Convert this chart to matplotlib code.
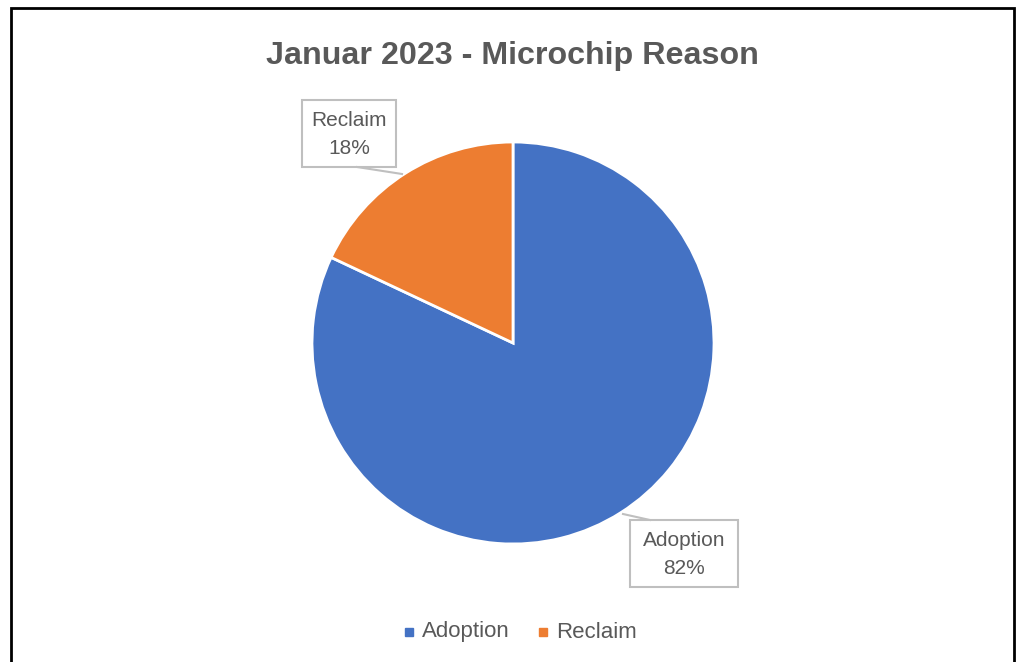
import matplotlib.pyplot as plt
from matplotlib.patches import Rectangle

# data
labels = ["Adoption", "Reclaim"]
shares = [82, 18]
colors = ["#4472C4", "#ED7D31"]
title = "Januar 2023 - Microchip Reason"

plt.rcParams['font.family'] = ['Liberation Sans', 'DejaVu Sans']
W, H = 1021, 662
fig = plt.figure(figsize=(W / 100, H / 100), dpi=100)
ax = fig.add_axes([0, 0, 1, 1])
ax.set_xlim(0, W)
ax.set_ylim(0, H)
ax.axis('off')

def py(y):
    # pixel row -> data y
    return H - y

# outer chart border
ax.add_patch(Rectangle((11, py(700)), 1003, 692, fill=False, ec='black', lw=2))

wedges, _ = ax.pie(shares, colors=colors, startangle=90, counterclock=False,
                   center=(513, py(343)), radius=201,
                   wedgeprops=dict(edgecolor='white', linewidth=2))
ax.set_xlim(0, W)
ax.set_ylim(0, H)
ax.set_aspect('equal')

ax.text(512, py(56), title, ha='center', va='center', fontsize=23.2,
        fontweight='bold', color='#595959')

# data labels with callout boxes
boxes = {
    "Reclaim": (302, 100, 94, 67, (357, 167), (402, 174)),
    "Adoption": (630, 520, 108, 67, (650, 520), (623, 514)),
}
for lab, val in zip(labels, shares):
    x0, y0, w, h, p_box, p_pie = boxes[lab]
    ax.add_patch(Rectangle((x0, py(y0 + h)), w, h, fc='white', ec='#BFBFBF', lw=1.5))
    ax.plot([p_box[0], p_pie[0]], [py(p_box[1]), py(p_pie[1])], color='#BFBFBF', lw=1.5)
    ax.text(x0 + w / 2, py(y0 + h / 2 + 1), f"{lab}\n{val}%", ha='center', va='center',
            fontsize=15, color='#595959', linespacing=1.55)

# legend
leg = [("Adoption", 409, colors[0]), ("Reclaim", 543, colors[1])]
for lab, x, c in leg:
    ax.add_patch(Rectangle((x - 4, py(636)), 8, 8, color=c))
    ax.text(x + 13, py(632), lab, ha='left', va='center', fontsize=16, color='#595959')

fig.savefig("out.png", dpi=100)
